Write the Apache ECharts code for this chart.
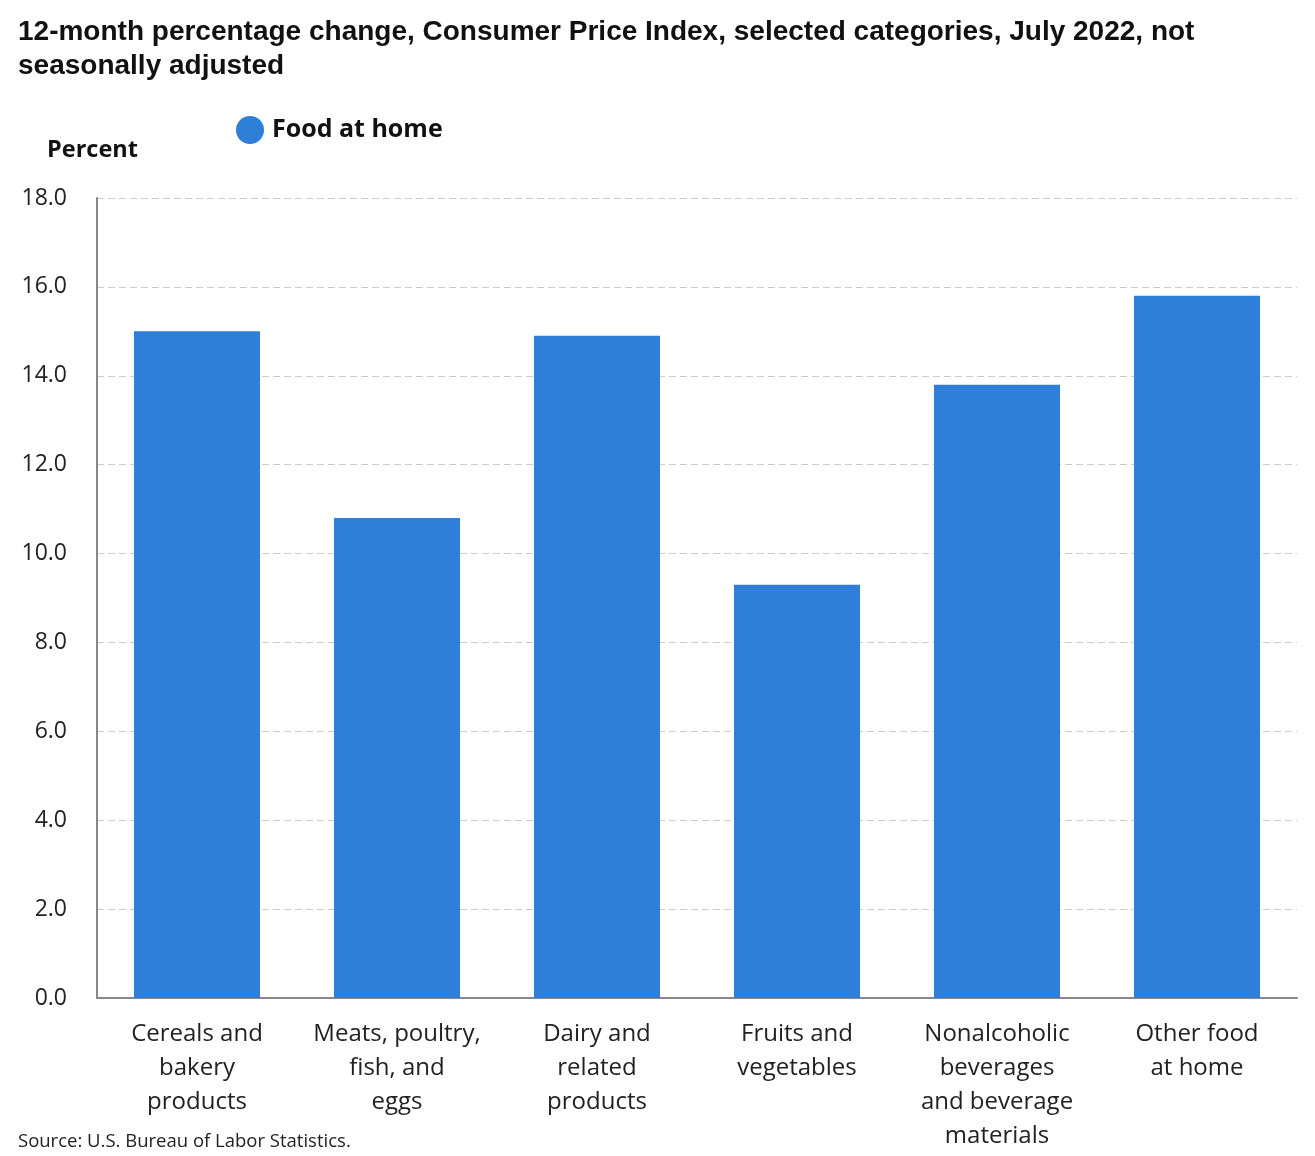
<!DOCTYPE html>
<html>
<head>
<meta charset="utf-8">
<script src="https://cdn.jsdelivr.net/npm/echarts@6/dist/echarts.min.js"></script>
<style>
html,body{margin:0;padding:0;background:#fff;}
#chart{width:1315px;height:1156px;}
</style>
</head>
<body>
<div id="chart"></div>
<script>
const categories = [
  "Cereals and\nbakery\nproducts",
  "Meats, poultry,\nfish, and\neggs",
  "Dairy and\nrelated\nproducts",
  "Fruits and\nvegetables",
  "Nonalcoholic\nbeverages\nand beverage\nmaterials",
  "Other food\nat home"
];
const foodAtHome = [15.0, 10.8, 14.9, 9.3, 13.8, 15.8];
const yTicks = { min: 0, max: 18, interval: 2 };
const seriesName = "Food at home";
const titleText = "12-month percentage change, Consumer Price Index, selected categories, July 2022, not\nseasonally adjusted";
const sourceText = "Source: U.S. Bureau of Labor Statistics.";

const chart = echarts.init(document.getElementById('chart'));
chart.setOption({
  backgroundColor: '#fff',
  animation: false,
  title: {
    text: titleText,
    left: 13,
    top: 10,
    textStyle: {
      fontFamily: 'Liberation Sans, Arial, sans-serif',
      fontWeight: 'bold',
      fontSize: 28,
      lineHeight: 34,
      color: '#111'
    }
  },
  legend: {
    data: [seriesName],
    left: 231,
    top: 111,
    icon: 'circle',
    itemWidth: 28,
    itemHeight: 28,
    itemGap: 10,
    textStyle: {
      fontFamily: 'Open Sans, sans-serif',
      fontWeight: 'bold',
      fontSize: 25,
      color: '#111',
      padding: [0, 0, 0, 3]
    }
  },
  graphic: [
    {
      type: 'text',
      left: 47,
      top: 138,
      style: {
        text: 'Percent',
        font: 'bold 23.5px "Open Sans", sans-serif',
        fill: '#111'
      }
    },
    {
      type: 'text',
      left: 18,
      top: 1132,
      style: {
        text: sourceText,
        font: '18.5px "Open Sans", sans-serif',
        fill: '#222'
      }
    }
  ],
  grid: {
    left: 97,
    right: 18,
    top: 198,
    bottom: 158,
    containLabel: false
  },
  xAxis: {
    type: 'category',
    data: categories,
    axisLine: { show: true, lineStyle: { color: '#888', width: 2 } },
    axisTick: { show: false },
    axisLabel: {
      interval: 0,
      margin: 19,
      fontFamily: 'Open Sans, sans-serif',
      fontSize: 24,
      lineHeight: 34,
      color: '#222'
    }
  },
  yAxis: {
    type: 'value',
    min: yTicks.min,
    max: yTicks.max,
    interval: yTicks.interval,
    axisLine: { show: true, lineStyle: { color: '#888', width: 2 } },
    axisTick: { show: false },
    splitLine: { show: true, lineStyle: { color: '#cccccc', type: [7, 4], width: 1 } },
    axisLabel: {
      margin: 30,
      fontFamily: 'Open Sans, sans-serif',
      fontSize: 23,
      color: '#222',
      formatter: v => v.toFixed(1)
    }
  },
  series: [{
    name: seriesName,
    type: 'bar',
    data: foodAtHome,
    barWidth: 126,
    itemStyle: { color: '#2F7ED8' }
  }]
});
</script>
</body>
</html>
